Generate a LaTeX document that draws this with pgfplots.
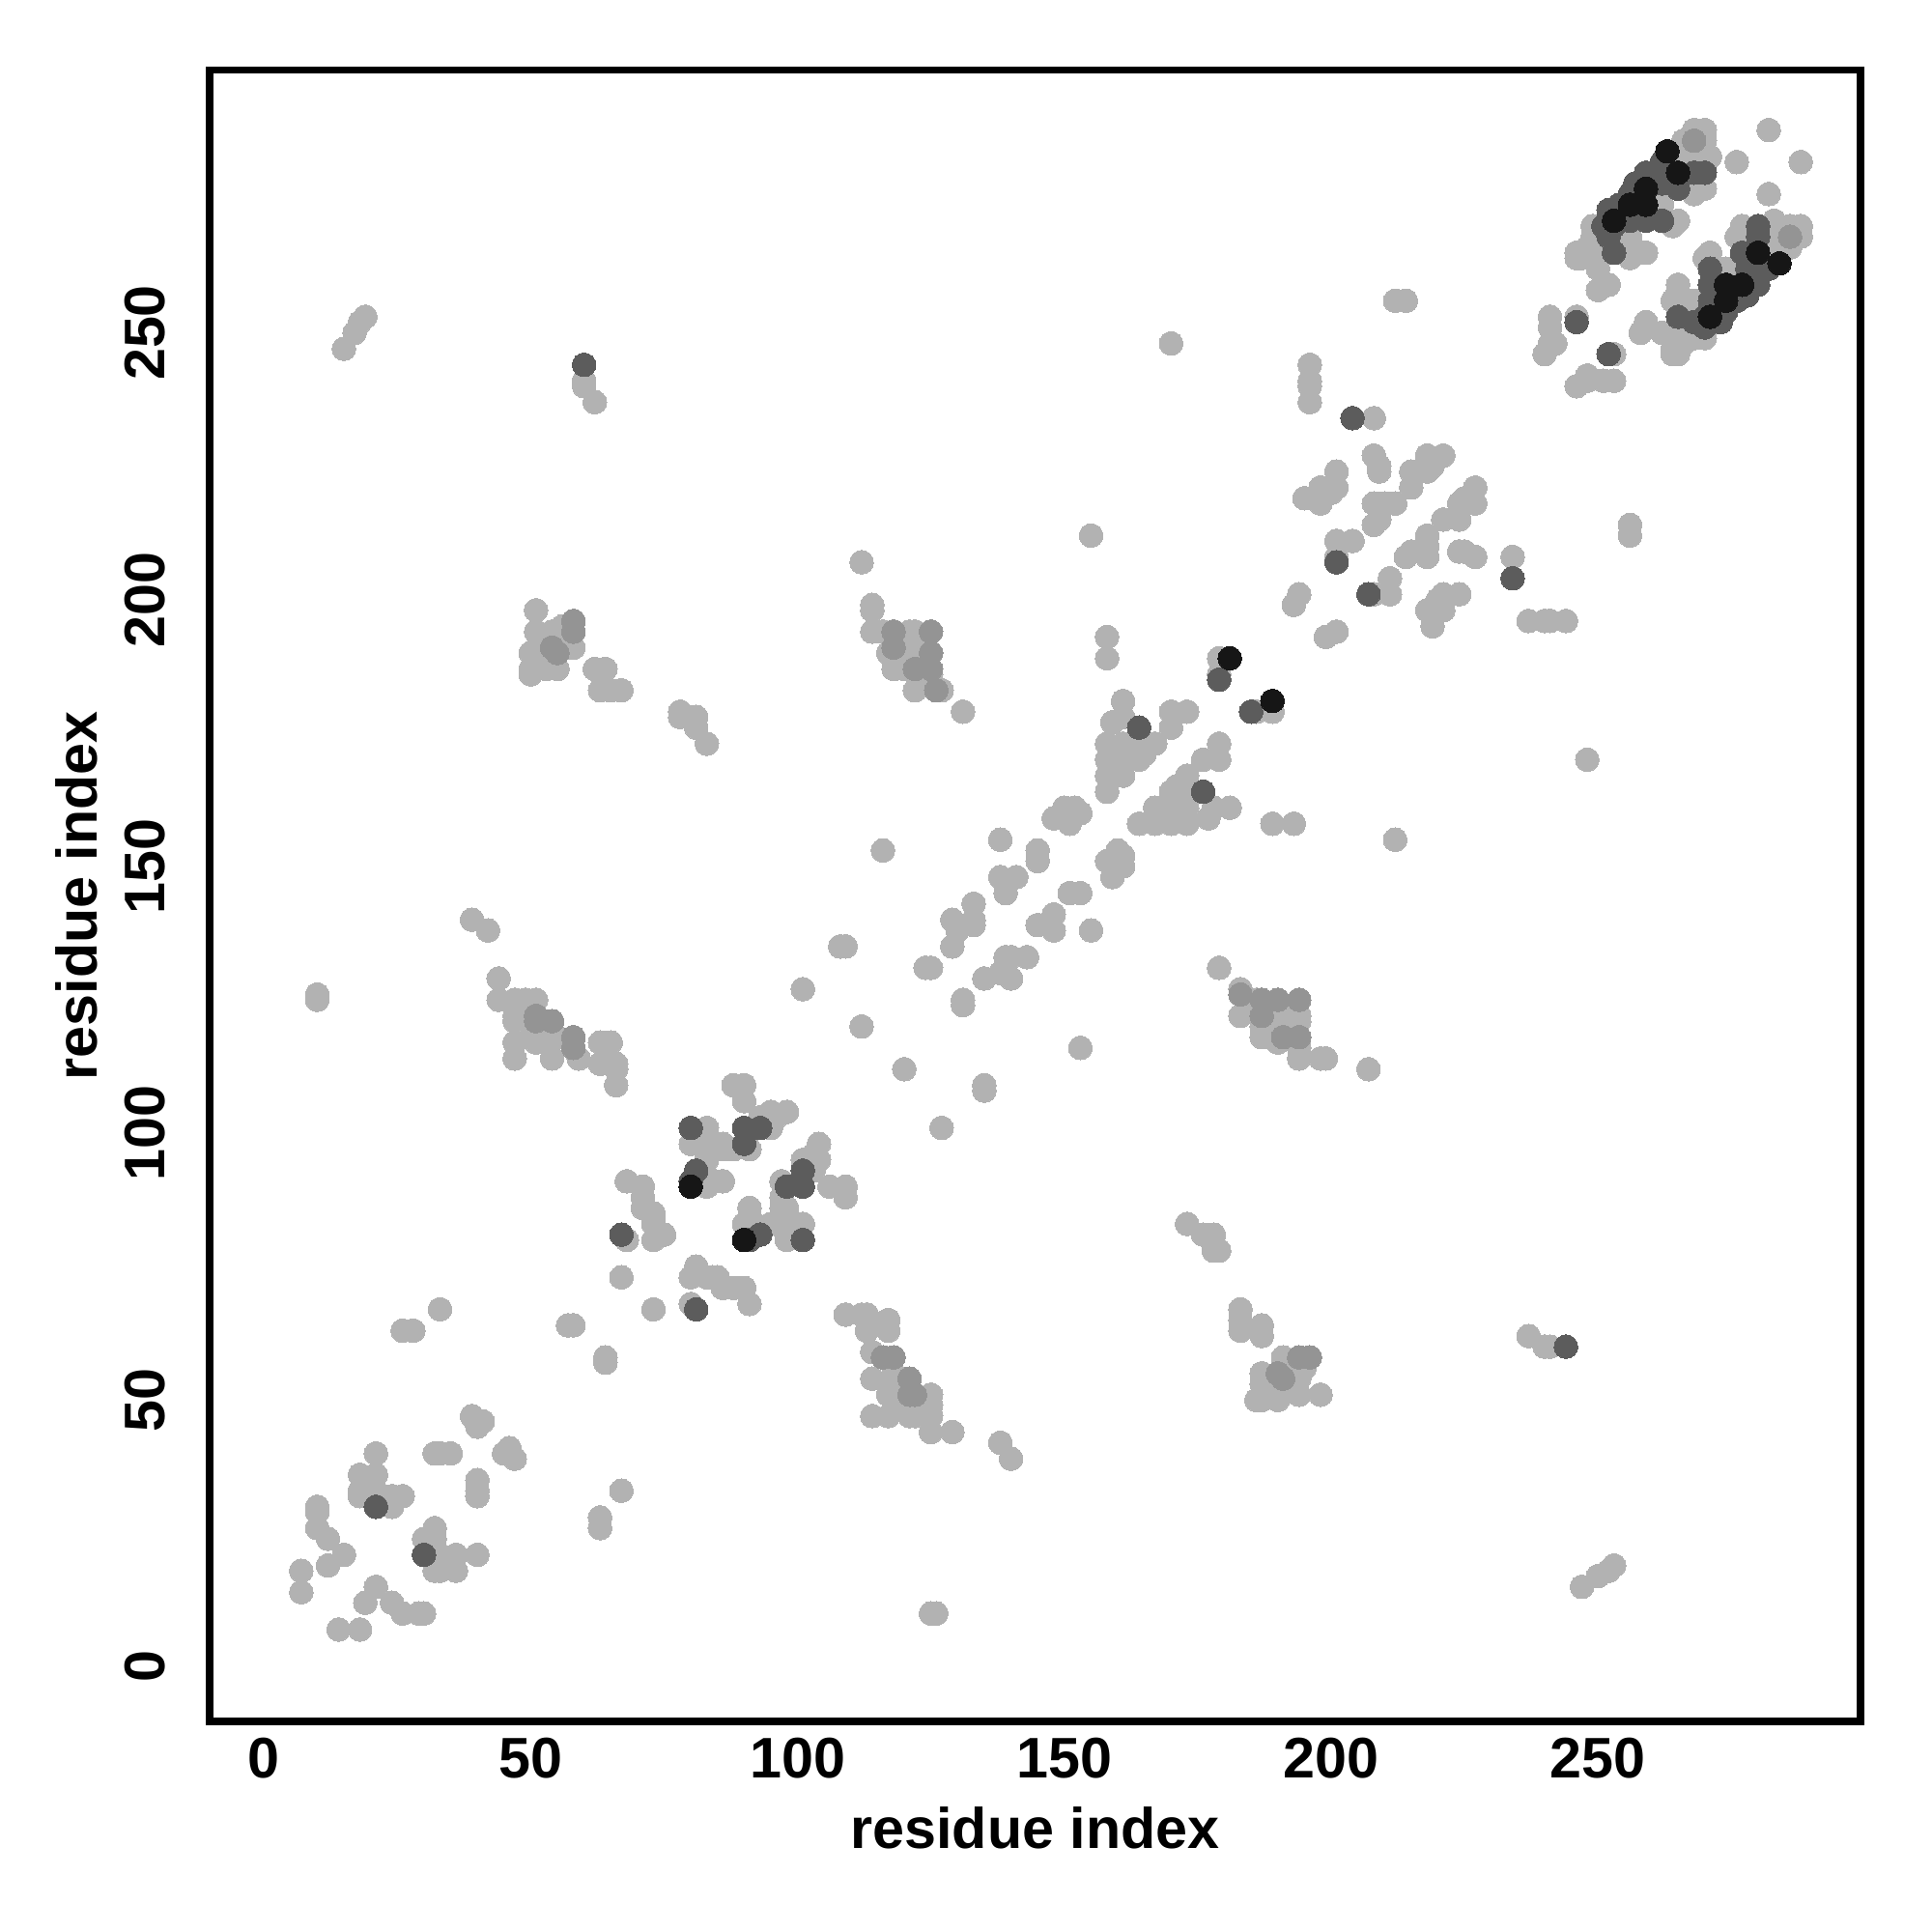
\documentclass[border=0pt]{standalone}
\usepackage{fontspec}
\setmainfont{Liberation Sans}
\usepackage{pgfplots}
\usepackage{pgfplotstable}
\pgfplotsset{compat=1.18}
\definecolor{cL}{RGB}{178,178,178}
\definecolor{cM}{RGB}{148,148,148}
\definecolor{cD}{RGB}{92,92,92}
\definecolor{cK}{RGB}{22,22,22}

% upper-triangle contacts (i < j); the map is symmetric
\pgfplotstableread{
i j
7 14
7 18
12 19
15 21
12 24
10 26
10 29
10 30
18 33
18 32
21 33
24 32
26 32
24 30
18 36
21 36
21 40
32 40
33 40
35 40
39 47
40 45
41 46
26 63
28 63
33 67
57 64
58 64
39 140
42 138
10 126
10 125
44 129
44 125
47 125
49 125
51 125
47 122
47 121
47 117
47 114
50 118
51 117
54 118
55 118
54 114
59 114
63 117
65 117
63 113
66 113
66 112
66 109
68 91
71 90
71 88
71 86
73 85
73 83
75 81
73 80
68 80
67 73
109 135
108 135
133 143
139 145
129 140
130 138
133 139
129 135
133 140
124 131
125 131
101 127
112 120
88 109
90 109
90 106
93 103
95 104
98 104
95 101
96 103
83 101
91 97
80 98
83 98
86 98
88 97
83 95
83 92
86 91
83 90
86 97
83 96
74 81
73 84
112 207
114 199
114 198
114 194
116 194
121 194
122 194
117 190
120 191
122 191
118 187
120 187
125 186
122 183
127 183
131 179
78 179
78 178
81 178
81 176
83 173
116 153
138 155
145 153
145 151
138 148
141 148
139 145
51 198
51 194
54 194
56 195
58 191
50 190
52 190
55 191
57 191
50 187
50 186
53 187
55 187
62 187
64 187
63 183
65 183
67 183
155 212
158 193
158 189
179 189
179 186
161 181
159 177
161 178
170 179
173 179
170 176
158 173
161 173
164 173
167 173
165 171
164 170
158 170
161 170
158 167
161 167
158 164
150 161
152 161
153 160
148 159
151 158
201 224
198 221
201 221
198 219
195 219
198 218
200 220
208 227
209 225
209 224
215 224
215 221
218 227
221 227
219 225
218 224
208 218
210 218
212 218
209 215
208 214
201 211
204 211
201 208
194 201
193 199
208 234
196 244
196 241
196 240
196 237
212 256
214 256
170 248
15 247
17 250
18 252
19 253
60 241
60 240
62 237
268 288
270 288
266 286
270 286
266 284
268 283
271 283
265 282
268 282
262 280
268 276
270 277
262 274
265 271
264 270
249 270
249 268
256 268
256 267
246 265
248 266
249 265
246 264
247 264
250 262
256 264
258 265
259 265
250 258
252 259
241 253
246 253
241 251
242 248
241 248
240 246
282 288
276 282
}\lightpts

\pgfplotstableread{
i j
51 122
51 121
54 121
58 118
58 116
118 194
125 194
118 191
125 190
122 187
125 187
126 183
58 196
58 194
54 191
55 190
268 286
}\medpts

\pgfplotstableread{
i j
21 30
67 81
93 101
80 101
90 101
90 98
81 93
80 91
179 185
164 176
201 207
204 234
60 244
262 282
268 280
270 280
259 280
258 278
257 278
262 278
265 277
256 276
254 274
252 273
259 271
262 271
253 270
256 271
251 270
252 268
253 265
246 252
}\darkpts

\pgfplotstableread{
i j
80 90
181 189
263 284
265 280
259 277
256 274
259 274
253 271
}\blackpts

\begin{document}
\begin{tikzpicture}
\begin{axis}[
  scale only axis,
  width=11.964cm, height=11.964cm,
  xmin=-10.2, xmax=299.2, ymin=-10.2, ymax=299.2,
  axis line style={line width=1.5pt},
  xtick={0,50,100,150,200,250},
  ytick={0,50,100,150,200,250},
  tick style={draw=none},
  /pgf/number format/assume math mode=true,
  ticklabel style={font=\fontsize{11.8}{14}\selectfont\bfseries, inner sep=0pt},
  xticklabel style={anchor=north},
  yticklabel style={rotate=90, anchor=south},
  xticklabel shift=0.116cm,
  yticklabel shift=0.31cm,
  xlabel={residue index},
  ylabel={residue index},
  label style={font=\fontsize{11.8}{14}\selectfont\bfseries, inner sep=0pt},
  xlabel style={at={(axis description cs:0.5,-0.0515)}, anchor=north},
  ylabel style={at={(axis description cs:-0.0669,0.5)}, anchor=south},
  every axis plot/.append style={only marks, mark=*, mark size=2.45pt},
]
\addplot[color=cL, mark options={draw=cL, fill=cL, line width=0pt}] table[x=i, y=j]{\lightpts};
\addplot[color=cL, mark options={draw=cL, fill=cL, line width=0pt}] table[x=j, y=i]{\lightpts};
\addplot[color=cM, mark options={draw=cM, fill=cM, line width=0pt}] table[x=i, y=j]{\medpts};
\addplot[color=cM, mark options={draw=cM, fill=cM, line width=0pt}] table[x=j, y=i]{\medpts};
\addplot[color=cD, mark options={draw=cD, fill=cD, line width=0pt}] table[x=i, y=j]{\darkpts};
\addplot[color=cD, mark options={draw=cD, fill=cD, line width=0pt}] table[x=j, y=i]{\darkpts};
\addplot[color=cK, mark options={draw=cK, fill=cK, line width=0pt}] table[x=i, y=j]{\blackpts};
\addplot[color=cK, mark options={draw=cK, fill=cK, line width=0pt}] table[x=j, y=i]{\blackpts};
\end{axis}
\useasboundingbox ([shift={(-1.518cm,-1.527cm)}]current axis.south west) rectangle ([shift={(0.518cm,0.509cm)}]current axis.north east);
\end{tikzpicture}
\end{document}
